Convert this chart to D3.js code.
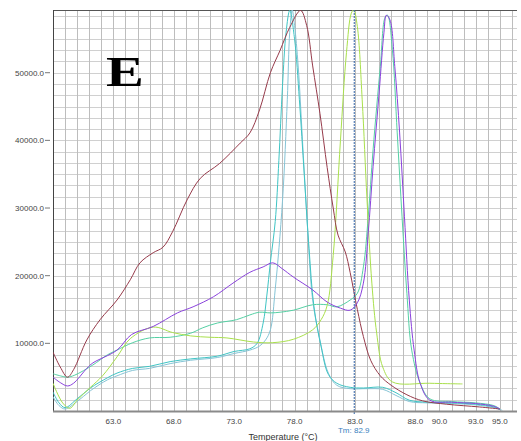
<html>
<head>
  <title>Melt curve E</title>
  <script src='https://d3js.org/d3.v7.min.js'></script>
  <style>
    body { margin: 0; background: #fff; }
    text { font-family: 'Liberation Sans', Arial, sans-serif; }
  </style>
</head>
<body>
  <script>

// temperatures (°C) and -dF/dT values (thousands) for each curve
var maroonT = [58.0, 58.6, 59.2, 59.7, 60.8, 61.9, 63.3, 64.4, 65.2, 66.3, 67.1, 67.9, 69.1, 70.2, 71.8, 73.5, 74.3, 75.1, 76.0, 76.8, 77.6, 78.5, 79.0, 79.5, 80.1, 80.7, 81.2, 81.6, 82.2, 82.6, 83.2, 83.7, 84.3, 85.1, 86.0, 87.3, 88.6, 90.6, 93.3, 95.0];
var maroonV = [8.7, 6.5, 5.0, 6.1, 10.5, 13.5, 16.4, 19.4, 21.9, 23.4, 24.2, 26.5, 31.2, 34.4, 36.6, 39.6, 41.1, 44.5, 50.0, 53.3, 56.7, 59.2, 57.0, 51.0, 44.0, 36.0, 30.0, 26.0, 23.5, 20.5, 15.0, 11.0, 7.5, 5.2, 3.8, 2.4, 1.5, 1.0, 0.6, 0.3];

var purpleT = [58.0, 58.6, 59.2, 59.7, 60.8, 61.3, 63.3, 64.5, 66.3, 68.3, 69.6, 71.3, 72.9, 74.3, 75.4, 76.2, 77.0, 77.9, 79.5, 80.7, 81.8, 82.6, 83.2, 83.7, 84.1, 84.5, 85.0, 85.4, 85.6, 85.9, 86.3, 86.7, 87.1, 87.5, 87.9, 88.4, 89.2, 91.0, 93.0, 94.5, 95.0];
var purpleV = [5.0, 4.2, 3.7, 4.1, 6.3, 7.1, 9.0, 11.3, 12.5, 14.5, 15.4, 16.9, 18.9, 20.5, 21.3, 21.9, 21.0, 19.8, 17.9, 16.1, 15.2, 14.9, 16.0, 18.9, 26.3, 36.1, 47.0, 55.9, 58.5, 57.8, 50.9, 41.1, 28.7, 16.4, 9.0, 4.1, 1.6, 1.3, 1.1, 0.7, 0.3];

var limeT = [58.0, 58.8, 59.4, 60.0, 61.1, 62.1, 63.3, 64.4, 66.3, 67.9, 69.4, 71.0, 72.4, 74.6, 76.2, 77.9, 79.5, 80.2, 80.7, 81.2, 81.8, 82.3, 82.7, 82.9, 83.2, 83.6, 84.0, 84.4, 84.8, 85.3, 86.1, 89.2, 91.9];
var limeV = [4.1, 1.2, 0.4, 1.6, 3.5, 5.2, 8.0, 10.7, 12.4, 11.6, 11.1, 10.9, 10.8, 10.2, 10.1, 10.6, 12.0, 13.5, 15.6, 23.0, 40.0, 53.0, 58.8, 59.3, 56.8, 46.0, 31.2, 18.9, 11.5, 6.5, 4.3, 4.1, 4.0];

var aquaT = [58.0, 58.6, 59.2, 59.8, 61.3, 62.5, 63.3, 64.6, 66.0, 67.7, 69.4, 70.4, 71.6, 73.2, 74.3, 75.1, 76.0, 76.8, 77.9, 79.5, 80.7, 81.5, 82.6, 83.2, 83.7, 84.1, 84.5, 85.1, 85.5, 85.7, 86.1, 86.5, 86.9, 87.3, 87.7, 88.4, 89.2, 91.0, 93.0, 94.5, 95.0];
var aquaV = [5.5, 5.2, 5.0, 5.3, 6.8, 8.3, 9.0, 10.1, 10.8, 10.9, 11.5, 12.3, 13.0, 13.5, 14.2, 14.6, 14.5, 14.6, 14.9, 15.7, 15.7, 15.4, 16.4, 17.4, 21.3, 28.7, 38.6, 50.9, 58.2, 58.5, 53.4, 41.1, 28.7, 17.4, 9.0, 4.1, 1.8, 1.4, 1.2, 0.8, 0.3];

var tealT = [58.0, 58.5, 59.0, 60.0, 61.1, 62.5, 63.3, 64.6, 66.0, 67.7, 69.4, 71.6, 73.0, 74.3, 74.9, 75.4, 75.7, 76.0, 76.4, 76.7, 77.0, 77.3, 77.6, 78.0, 78.4, 78.8, 79.2, 79.6, 80.2, 80.8, 81.5, 82.6, 83.7, 85.3, 86.4, 87.5, 89.0, 91.0, 93.0, 94.5, 95.0];
var tealV = [2.8, 1.2, 0.5, 1.8, 3.4, 4.9, 5.6, 6.3, 6.6, 7.3, 7.7, 8.1, 8.8, 9.2, 10.0, 13.0, 17.0, 22.0, 28.0, 37.0, 48.0, 56.0, 59.2, 55.0, 46.0, 35.0, 24.0, 15.5, 9.5, 5.4, 4.1, 3.5, 3.4, 3.5, 2.7, 1.6, 1.3, 1.2, 1.0, 0.6, 0.2];

var lightT = [58.0, 58.5, 59.0, 60.0, 61.1, 62.5, 63.3, 64.6, 66.0, 67.7, 69.4, 71.6, 73.0, 74.3, 75.1, 75.6, 76.0, 76.4, 77.0, 77.4, 77.6, 77.8, 78.0, 78.3, 78.7, 79.1, 79.5, 80.1, 80.8, 81.5, 82.6, 84.0, 85.3, 86.4, 87.5, 89.0, 91.0, 93.0, 94.5, 95.2];
var lightV = [2.1, 0.8, 0.3, 1.4, 3.0, 4.6, 5.2, 6.0, 6.3, 7.0, 7.5, 7.9, 8.5, 9.0, 9.6, 10.5, 12.0, 18.0, 31.0, 46.0, 56.0, 59.3, 57.0, 51.0, 38.6, 26.3, 16.4, 10.5, 5.6, 3.8, 3.3, 3.3, 3.2, 2.3, 1.4, 1.2, 1.1, 0.9, 0.5, 0.1];

var yTicks = [10000, 20000, 30000, 40000, 50000];
var xTicks = [63, 68, 73, 78, 83, 88, 90, 93, 95];
var tm = 82.9;

var curves = [
  {t: lightT, v: lightV, color: '#86c4d6'},
  {t: tealT, v: tealV, color: '#3fc4c4'},
  {t: aquaT, v: aquaV, color: '#55d0a4'},
  {t: limeT, v: limeV, color: '#a9e04c'},
  {t: maroonT, v: maroonV, color: '#963a4a'},
  {t: purpleT, v: purpleV, color: '#8a42dc'}
];

var width = 521,
    height = 441;
var pLeft = 53, pRight = 517, pTop = 10, pBottom = 411;

var svg = d3.select('body')
  .append('svg')
  .attr('width', width)
  .attr('height', height);

var x = d3.scaleLinear().domain([58, 96.5]).range([pLeft, pLeft + 465]);
var y = d3.scaleLinear().domain([0, 59270]).range([pBottom, pTop]);

// grid
var grid = svg.append('g');
grid.selectAll('line.h')
  .data(d3.range(10000 / 6, 59270, 10000 / 6))
  .enter()
  .append('line')
  .attr('class', 'h')
  .attr('x1', pLeft).attr('x2', pRight)
  .attr('y1', function(d){ return Math.round(y(d)) + 0.5; })
  .attr('y2', function(d){ return Math.round(y(d)) + 0.5; })
  .attr('stroke', '#d0d0d0');
grid.selectAll('line.v')
  .data(d3.range(59, 97))
  .enter()
  .append('line')
  .attr('class', 'v')
  .attr('y1', pTop).attr('y2', pBottom)
  .attr('x1', function(d){ return Math.round(x(d)) + 0.5; })
  .attr('x2', function(d){ return Math.round(x(d)) + 0.5; })
  .attr('stroke', '#bdbdbd');

// frame
svg.append('line').attr('x1', pLeft).attr('x2', pRight).attr('y1', pTop + 0.5).attr('y2', pTop + 0.5).attr('stroke', '#555');
svg.append('line').attr('x1', pLeft + 0.5).attr('x2', pLeft + 0.5).attr('y1', pTop).attr('y2', pBottom).attr('stroke', '#444');

// y axis
var yAxis = svg.append('g');
yAxis.selectAll('line')
  .data(yTicks)
  .enter()
  .append('line')
  .attr('x1', 45).attr('x2', 50)
  .attr('y1', function(d){ return y(d); })
  .attr('y2', function(d){ return y(d); })
  .attr('stroke', '#777');
yAxis.selectAll('text')
  .data(yTicks)
  .enter()
  .append('text')
  .attr('x', 44)
  .attr('y', function(d){ return y(d) + 3; })
  .attr('text-anchor', 'end')
  .attr('font-size', '8px')
  .attr('fill', '#444')
  .text(function(d){ return d3.format('.1f')(d); });

// curves
svg.append('clipPath').attr('id', 'plot')
  .append('rect').attr('x', pLeft).attr('y', pTop).attr('width', pRight - pLeft).attr('height', pBottom - pTop);

var line = d3.line()
  .x(function(d){ return x(d[0]); })
  .y(function(d){ return y(d[1] * 1000); })
  .curve(d3.curveCatmullRom.alpha(0.5));

svg.append('g').attr('clip-path', 'url(#plot)')
  .selectAll('path')
  .data(curves)
  .enter()
  .append('path')
  .attr('fill', 'none')
  .attr('stroke', function(d){ return d.color; })
  .attr('stroke-width', 1)
  .attr('d', function(d){ return line(d3.zip(d.t, d.v)); });

// Tm marker
svg.append('line')
  .attr('x1', x(tm) + 0.5).attr('x2', x(tm) + 0.5)
  .attr('y1', pTop).attr('y2', pBottom + 4)
  .attr('stroke', '#2c5fa6')
  .attr('stroke-dasharray', '2,1');

// x axis
svg.append('line').attr('x1', pLeft).attr('x2', pRight).attr('y1', pBottom + 0.5).attr('y2', pBottom + 0.5).attr('stroke', '#8a8a8a').attr('stroke-width', 2);
var xAxis = svg.append('g');
xAxis.selectAll('text')
  .data(xTicks)
  .enter()
  .append('text')
  .attr('x', function(d){ return x(d); })
  .attr('y', 424)
  .attr('text-anchor', 'middle')
  .attr('font-size', '8px')
  .attr('fill', '#444')
  .text(function(d){ return d3.format('.1f')(d); });

svg.append('text')
  .attr('x', x(tm))
  .attr('y', 433)
  .attr('text-anchor', 'middle')
  .attr('font-size', '8px')
  .attr('fill', '#3a7fc0')
  .text('Tm: ' + tm);

svg.append('text')
  .attr('x', 283)
  .attr('y', 440)
  .attr('text-anchor', 'middle')
  .attr('font-size', '9px')
  .attr('fill', '#333')
  .text('Temperature (°C)');

// panel letter
svg.append('text')
  .attr('transform', 'translate(106,86) scale(1.35,1)')
  .style('font-family', "'Liberation Serif', 'Times New Roman', serif")
  .style('font-weight', 'bold')
  .style('font-size', '42px')
  .attr('fill', '#000')
  .text('E');

  </script>
</body>
</html>
